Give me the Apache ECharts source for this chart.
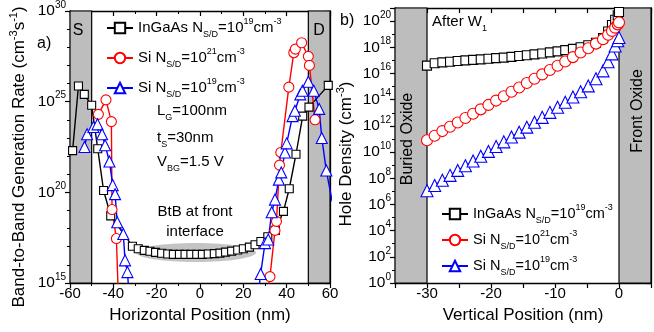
<!DOCTYPE html>
<html><head><meta charset="utf-8">
<script src="https://cdn.jsdelivr.net/npm/echarts@6/dist/echarts.min.js"></script>
<style>html,body{margin:0;padding:0;background:#fff}#c{width:654px;height:332px}</style>
</head><body><div id="c"></div>
<script>
const seriesNames = ['InGaAs N_S/D=10^19cm^-3', 'Si N_S/D=10^21cm^-3', 'Si N_S/D=10^19cm^-3'];

// Panel a) : [horizontal position (nm), log10 BtB generation rate]
const aInGaAs = [[-58.8,22.3],[-56.1,25.86],[-53.4,25.4],[-50.0,24.8],[-47.2,22.4],[-44.5,20.1],[-41.2,18.7],
  [-31.2,17.03],[-28.5,16.89],[-25.7,16.8],[-23.1,16.75],[-20.5,16.69],[-17.7,16.64],[-14.9,16.6],[-12.3,16.58],
  [-9.5,16.58],[-6.9,16.58],[-4.2,16.58],[-1.5,16.58],[1.1,16.58],[3.8,16.6],[6.6,16.62],[9.2,16.65],[11.8,16.7],
  [14.6,16.76],[17.4,16.82],[20.0,16.89],[22.8,16.98],[25.4,17.11],[28.1,17.29],[31.3,17.55],[34.8,17.9],
  [38.5,18.95],[41.2,20.2],[44.3,22.1],[47.4,24.2],[50.3,24.7],[59.2,25.9]];
const aSi21 = [[-46.9,24.3],[-43.4,25.1],[-40.9,23.9],[-40.6,19.05],[-38.6,17.45],[-37.6,14.0],
  [30.5,14.0],[32.3,15.35],[34.6,17.9],[35.3,18.4],[36.7,21.5],[37.3,22.2],[41.0,25.8],[43.3,27.7],[44.0,27.9],
  [46.9,28.25],[50.0,27.5],[50.5,27.0],[53.1,24.0]];
const aSi19 = [[-53.3,22.5],[-52.1,23.2],[-49.2,23.6],[-47.3,23.75],[-45.2,23.2],[-43.8,22.6],[-41.8,21.7],
  [-40.3,20.4],[-39.2,19.9],[-38.2,18.35],[-35.4,17.7],[-34.6,16.25],[-33.5,15.6],[-32.5,14.0],
  [26.5,14.0],[28.0,15.5],[30.0,17.2],[31.5,17.4],[33.1,18.9],[34.6,19.6],[36.4,20.7],[37.5,21.1],[39.2,22.2],
  [40.0,22.7],[42.7,24.2],[43.8,24.5],[46.3,25.4],[47.3,25.6],[50.0,26.1],[52.5,25.6],[55.0,24.6],[56.2,23.0],
  [58.3,21.2],[61.0,19.5]];

// Panel b) : vertical position (nm) and log10 hole density
const bPos = [-30,-28.8,-27.6,-26.4,-25.2,-24,-22.8,-21.6,-20.4,-19.2,-18,-16.8,-15.6,-14.4,-13.2,-12,-10.8,-9.6,
  -8.4,-7.2,-6,-4.8,-3.6,-2.5,-1.7,-1.1,-0.6,-0.2,0];
const bInGaAs = [16.6,16.78,16.85,16.9,16.95,17.0,17.04,17.08,17.12,17.17,17.21,17.27,17.33,17.39,17.46,17.53,17.61,
  17.69,17.78,17.88,18.0,18.15,18.35,18.7,19.2,19.7,20.1,20.45,20.7];
const bSi21 = [10.9,11.25,11.6,11.93,12.26,12.6,12.93,13.26,13.6,13.93,14.26,14.6,14.93,15.27,15.6,15.93,16.26,16.59,
  16.92,17.25,17.6,17.93,18.28,18.62,18.95,19.25,19.5,19.75,19.9];
const bSi19 = [7.05,7.45,7.85,8.22,8.6,8.95,9.32,9.68,10.05,10.42,10.78,11.15,11.52,11.9,12.27,12.65,13.03,13.42,
  13.8,14.2,14.6,15.05,15.6,16.2,16.9,17.5,18.1,18.5,18.75];

// regions (oxide / contacts)
const aRegions = [[-60,-50],[50,60]];
const bRegions = [[-35,-30],[0,5]];

// ---------- STYLE ----------
const FONT = '"Liberation Sans", Arial, sans-serif';
const colors = ['#000000', '#ff0000', '#0000ff'];
const symbols = ['rect', 'circle', 'triangle'];
const symSizesA = [8, 10, 11];
const symSizesB = [9, 11, 12];

function rich(base) {
  return {
    t:   {fontSize: base, fontFamily: FONT, color: '#000', lineHeight: 22, verticalAlign: 'middle'},
    sup: {fontSize: Math.round(base*0.62), fontFamily: FONT, color: '#000', lineHeight: 10, verticalAlign: 'top'},
    sub: {fontSize: Math.round(base*0.62), fontFamily: FONT, color: '#000', lineHeight: 10, verticalAlign: 'bottom'}
  };
}
const legendText = {
  'InGaAs N_S/D=10^19cm^-3': '{t|InGaAs N}{sub|S/D}{t|=10}{sup|19}{t|cm}{sup|-3}',
  'Si N_S/D=10^21cm^-3': '{t|Si N}{sub|S/D}{t|=10}{sup|21}{t|cm}{sup|-3}',
  'Si N_S/D=10^19cm^-3': '{t|Si N}{sub|S/D}{t|=10}{sup|19}{t|cm}{sup|-3}'
};

function lineSeries(i, data, xi, yi, sizes) {
  return {
    type: 'line', name: seriesNames[i], data: data, xAxisIndex: xi, yAxisIndex: yi,
    symbol: symbols[i], symbolSize: sizes[i], showAllSymbol: true, clip: true, z: 3,
    color: colors[i],
    lineStyle: {color: colors[i], width: 1.4},
    itemStyle: {color: '#ffffff', borderColor: colors[i], borderWidth: 1.1},
    emphasis: {disabled: true}, silent: true, animation: false
  };
}
function areaSeries(regions, xi, yi) {
  return {
    type: 'line', data: [], xAxisIndex: xi, yAxisIndex: yi, silent: true, z: 1,
    markArea: {silent: true, itemStyle: {color: '#bdbdbd', borderColor: '#000', borderWidth: 1.2},
      data: regions.map(r => [{xAxis: r[0]}, {xAxis: r[1]}])}
  };
}
const axisLine = {show: true, onZero: false, lineStyle: {color: '#000', width: 1.3}};
function xAx(grid, min, max, interval, minorSplit, name, labelFmt) {
  return {
    gridIndex: grid, type: 'value', min: min, max: max, interval: interval, position: 'bottom',
    axisLine: axisLine, splitLine: {show: false},
    axisTick: {show: true, inside: false, length: 5, lineStyle: {color: '#000', width: 1.2}},
    minorTick: {show: minorSplit > 0, splitNumber: minorSplit || 5, length: 3, lineStyle: {color: '#000', width: 1}},
    axisLabel: {fontSize: 15, fontFamily: FONT, color: '#000', margin: 3, formatter: labelFmt},
    name: name, nameLocation: 'middle', nameGap: 24,
    nameTextStyle: {fontSize: 17, fontFamily: FONT, color: '#000'}
  };
}
function xAxTop(grid, min, max, interval, minorSplit) {
  return {
    gridIndex: grid, type: 'value', min: min, max: max, interval: interval, position: 'top',
    axisLine: axisLine, splitLine: {show: false}, axisLabel: {show: false},
    axisTick: {show: true, inside: true, length: 5, lineStyle: {color: '#000', width: 1.2}},
    minorTick: {show: minorSplit > 0, splitNumber: minorSplit || 5, length: 3, lineStyle: {color: '#000', width: 1}}
  };
}
function yAx(grid, min, max, interval, minorSplit, labelFilter) {
  return {
    gridIndex: grid, type: 'value', min: min, max: max, interval: interval, position: 'left',
    axisLine: axisLine, splitLine: {show: false},
    axisTick: {show: true, inside: false, length: 5, lineStyle: {color: '#000', width: 1.2}},
    minorTick: {show: true, splitNumber: minorSplit, length: 3, lineStyle: {color: '#000', width: 1}},
    axisLabel: {margin: 4, formatter: v => labelFilter(v) ? '{t|10}{sup|' + v + '}' : '', rich: rich(15.5)}
  };
}
function yAxRight(grid, min, max, interval, minorSplit) {
  return {
    gridIndex: grid, type: 'value', min: min, max: max, interval: interval, position: 'right',
    axisLine: axisLine, splitLine: {show: false}, axisLabel: {show: false},
    axisTick: {show: true, inside: true, length: 5, lineStyle: {color: '#000', width: 1.2}},
    minorTick: {show: true, splitNumber: minorSplit, length: 3, lineStyle: {color: '#000', width: 1}}
  };
}
function txt(x, y, text, size, opts) {
  return Object.assign({
    type: 'text', x: x, y: y, silent: true, z: 10,
    style: Object.assign({text: text, rich: rich(size), fontSize: size, fontFamily: FONT, fill: '#000',
      align: 'left', verticalAlign: 'middle', textAlign: 'left', textVerticalAlign: 'middle'}, (opts && opts.style) || {})
  }, opts ? {rotation: opts.rotation || 0} : {});
}

const bInGaAsPts = bPos.map((x, i) => [x, bInGaAs[i]]);
const bSi21Pts = bPos.map((x, i) => [x, bSi21[i]]);
const bSi19Pts = bPos.map((x, i) => [x, bSi19[i]]);

const option = {
  animation: false,
  backgroundColor: '#ffffff',
  textStyle: {fontFamily: FONT},
  grid: [
    {left: 70, top: 8, width: 260, height: 275, containLabel: false},
    {left: 395, top: 8, width: 261, height: 275, containLabel: false}
  ],
  xAxis: [
    xAx(0, -60, 60, 20, 2, 'Horizontal Position (nm)', v => String(v)),
    xAxTop(0, -60, 60, 20, 2),
    xAx(1, -35, 5, 5, 0, 'Vertical Position (nm)', v => (v % 10 === 0 ? String(v) : '')),
    xAxTop(1, -35, 5, 5, 0)
  ],
  yAxis: [
    yAx(0, 15, 30, 5, 5, v => v % 5 === 0),
    yAxRight(0, 15, 30, 5, 5),
    yAx(1, 0, 21, 2, 2, v => v % 2 === 0),
    yAxRight(1, 0, 21, 2, 2)
  ],
  legend: [
    {data: seriesNames, orient: 'vertical', left: 101, top: 12, itemWidth: 26, itemHeight: 13, itemGap: 8,
      selectedMode: false, formatter: n => legendText[n], textStyle: {rich: rich(15)}},
    {data: seriesNames, orient: 'vertical', left: 436, top: 198, itemWidth: 26, itemHeight: 13, itemGap: 4,
      selectedMode: false, formatter: n => legendText[n], textStyle: {rich: rich(14.5)}}
  ],
  graphic: [
    {type: 'ellipse', shape: {cx: 196, cy: 252.5, rx: 60, ry: 9.5}, style: {fill: '#c4c4c4'}, z: 0, silent: true},
    txt(37, 44, 'a)', 16),
    txt(78, 31, 'S', 16, {style: {align: 'center', textAlign: 'center'}}),
    txt(319, 31, 'D', 16, {style: {align: 'center', textAlign: 'center'}}),
    txt(157, 111, '{t|L}{sub|G}{t|=100nm}', 15),
    txt(157, 138, '{t|t}{sub|S}{t|=30nm}', 15),
    txt(157, 162, '{t|V}{sub|BG}{t|=1.5 V}', 15),
    txt(195, 212, 'BtB at front', 15, {style: {align: 'center', textAlign: 'center'}}),
    txt(195, 232, 'interface', 15, {style: {align: 'center', textAlign: 'center'}}),
    txt(19, 157, '{t|Band-to-Band Generation Rate (cm}{sup|-3}{t|s}{sup|-1}{t|)}', 17,
      {rotation: Math.PI / 2, style: {align: 'center', textAlign: 'center'}}),
    txt(340, 21, 'b)', 16),
    txt(432, 22, '{t|After W}{sub|1}', 15),
    txt(408, 139, 'Buried Oxide', 16, {rotation: Math.PI / 2, style: {align: 'center', textAlign: 'center'}}),
    txt(638, 111, 'Front Oxide', 16, {rotation: Math.PI / 2, style: {align: 'center', textAlign: 'center'}}),
    txt(346, 154, '{t|Hole Density (cm}{sup|-3}{t|)}', 17,
      {rotation: Math.PI / 2, style: {align: 'center', textAlign: 'center'}})
  ],
  series: [
    areaSeries(aRegions, 0, 0),
    lineSeries(0, aInGaAs, 0, 0, symSizesA),
    lineSeries(1, aSi21, 0, 0, symSizesA),
    lineSeries(2, aSi19, 0, 0, symSizesA),
    areaSeries(bRegions, 2, 2),
    lineSeries(0, bInGaAsPts, 2, 2, symSizesB),
    lineSeries(1, bSi21Pts, 2, 2, symSizesB),
    lineSeries(2, bSi19Pts, 2, 2, symSizesB)
  ]
};
const chart = echarts.init(document.getElementById('c'), null, {renderer: 'canvas'});
chart.setOption(option);
</script>
</body></html>
